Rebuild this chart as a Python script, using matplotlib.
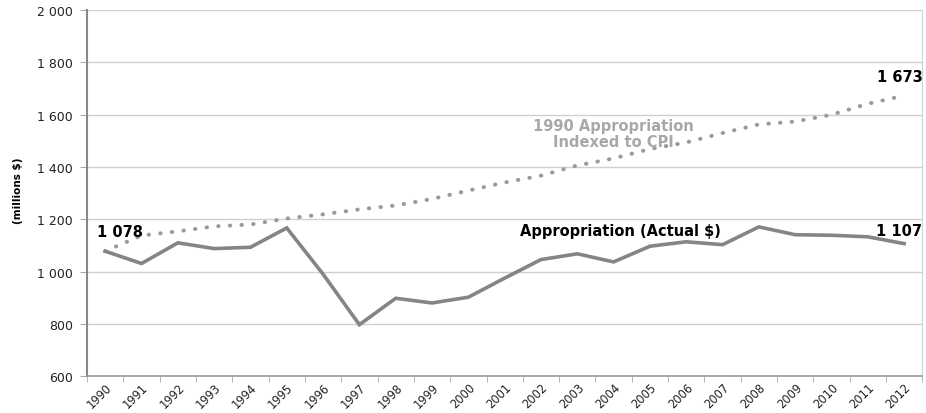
import matplotlib
matplotlib.use("Agg")
import matplotlib.pyplot as plt
from matplotlib.ticker import FuncFormatter

plt.rcParams['font.family'] = ['DejaVu Sans']

years = [str(y) for y in range(1990, 2013)]
actual = [1078, 1031, 1110, 1088, 1093, 1167, 990, 797, 898, 880, 902, 975,
          1046, 1068, 1037, 1097, 1114, 1103, 1171, 1141, 1139, 1133, 1107]
indexed = [1078, 1138, 1154, 1173, 1180, 1203, 1219, 1238, 1253, 1278, 1310, 1341,
           1367, 1406, 1433, 1469, 1494, 1530, 1563, 1574, 1600, 1642, 1673]

fig = plt.figure(figsize=(9.26, 4.14), dpi=100)
ax = fig.add_axes([0.094, 0.089, 0.902, 0.884])

x = list(range(len(years)))
# dotted CPI line, then the actual appropriation
ax.plot(x, indexed, linestyle=(0, (0.1, 2.8)), dash_capstyle='round',
        color='#9a9a9a', linewidth=2.9)
ax.plot(x, actual, color='#858585', linewidth=2.6, solid_joinstyle='miter')

ax.set_xlim(-0.5, len(years) - 0.5)
ax.set_ylim(600, 2000)
ax.set_yticks(range(600, 2001, 200))
ax.yaxis.set_major_formatter(FuncFormatter(lambda v, p: f"{int(v):,}".replace(",", " ")))
ax.set_xticks(x)
ax.set_xticklabels(years, rotation=45, ha='right', rotation_mode='anchor')
ax.set_xticks([i - 0.5 for i in range(len(years) + 1)], minor=True)
ax.tick_params(axis='x', which='major', length=0, pad=3, labelsize=8.3, colors='#222222')
ax.tick_params(axis='x', which='minor', length=4, color='#aaaaaa')
ax.tick_params(axis='y', length=5, color='#aaaaaa', labelsize=9, labelcolor='#222222', pad=5)

ax.grid(axis='y', color='#d0d0d0', linewidth=1)
ax.set_axisbelow(True)
ax.spines['top'].set_visible(False)
ax.spines['right'].set_color('#d0d0d0')
ax.spines['left'].set_color('#888888')
ax.spines['left'].set_linewidth(1.5)
ax.spines['bottom'].set_color('#999999')
ax.spines['bottom'].set_linewidth(1.2)

ax.set_ylabel('(millions $)', fontsize=7.5, fontweight='bold')
ax.yaxis.set_label_coords(-0.077, 0.51)

ax.text(0.4, 1153, '1 078', fontsize=10.5, fontweight='bold', ha='center', va='center')
ax.text(22.5, 1746, '1 673', fontsize=10.5, fontweight='bold', ha='right', va='center',
        clip_on=False)
ax.text(22.5, 1157, '1 107', fontsize=10.5, fontweight='bold', ha='right', va='center',
        clip_on=False)
ax.text(14.2, 1157, 'Appropriation (Actual $)', fontsize=10.5, fontweight='bold',
        ha='center', va='center')
ax.text(13.98, 1528, '1990 Appropriation\nIndexed to CPI', fontsize=10.5, fontweight='bold',
        color='#a8a8a8', ha='center', va='center', linespacing=1.05)

fig.savefig('out.png', dpi=100)
